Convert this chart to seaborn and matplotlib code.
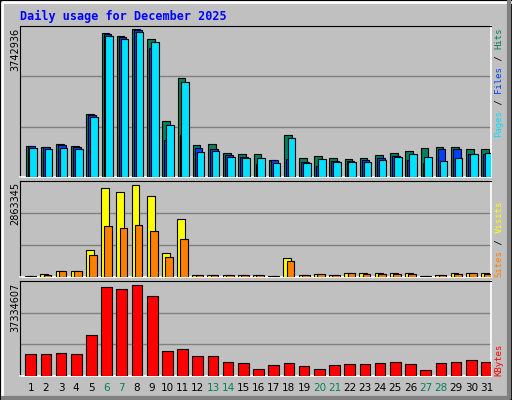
import matplotlib.pyplot as plt
import seaborn as sns
import numpy as np
import pandas as pd
from matplotlib.lines import Line2D

# Data (values in thousands)
days = list(range(1, 32))
weekend = [6, 7, 13, 14, 20, 21, 27, 28]
hits = [779, 752, 827, 779, 1550, 3560, 3485, 3661, 3414, 1400, 2444, 805, 827, 606, 580, 580,
        430, 1052, 479, 531, 479, 457, 479, 554, 606, 655, 730, 752, 752, 704, 704]
files = [779, 752, 801, 752, 1531, 3537, 3462, 3634, 3189, 928, 1052, 730, 704, 554, 505, 329,
         430, 457, 382, 281, 404, 404, 430, 479, 531, 430, 356, 704, 704, 580, 580]
pages = [730, 704, 730, 704, 1497, 3485, 3414, 3586, 3339, 1299, 2343, 629, 655, 505, 479, 479,
         356, 977, 356, 457, 382, 382, 382, 430, 505, 580, 505, 404, 479, 580, 606]
visits = [40, 100, 169, 169, 816, 2663, 2545, 2754, 2425, 724, 1741, 69, 69, 69, 69, 69,
          40, 575, 69, 100, 69, 129, 129, 129, 129, 129, 40, 69, 129, 129, 129]
sites = [29, 69, 169, 169, 667, 1532, 1472, 1560, 1383, 607, 1145, 69, 69, 69, 69, 69,
         29, 487, 69, 100, 69, 129, 100, 100, 100, 100, 29, 69, 100, 129, 100]
kbytes = [8512, 8512, 8923, 8512, 15979, 35095, 34311, 35879, 31585, 9707, 10491, 7728, 7728,
          5638, 4966, 2875, 4182, 4966, 3808, 2875, 4182, 4592, 4592, 4966, 5638, 4592, 2501,
          4966, 5638, 6160, 5638]
max_hits, max_visits, max_kbytes = 3742936, 2863345, 37334607

BG = "#C0C0C0"
fig = plt.figure(figsize=(5.12, 4.0), dpi=100, facecolor=BG)

def panel(bottom, height, series, ymax):
    ax = fig.add_axes([20 / 512, bottom, 471 / 512, height])
    ax.set_facecolor(BG)
    for offset, vals, color, w in series:
        df = pd.DataFrame({"x": np.array(days) + offset, "y": vals})
        sns.barplot(data=df, x="x", y="y", native_scale=True, orient="x", width=w,
                    color=color, edgecolor="black", linewidth=0.8, errorbar=None,
                    saturation=1, ax=ax, zorder=3)
    ax.set_xlim(0.3, 31.3)
    ax.set_ylim(0, ymax)
    for f in (1 / 3, 2 / 3):
        ax.axhline(ymax * f, color="#808080", lw=1, zorder=1)
    ax.set_xlabel("")
    ax.set_ylabel("")
    ax.set_yticks([])
    ax.set_xticks([])
    for s in ("top", "left"):
        ax.spines[s].set_color("black")
    for s in ("bottom", "right"):
        ax.spines[s].set_color("white")
        ax.spines[s].set_linewidth(1.2)
    return ax

panel(0.5575, 0.3775, [(-0.08, hits, "#00805C", 0.5), (0.05, files, "#0040FF", 0.5),
                       (0.17, pages, "#00E0FF", 0.5)], 3743)
panel(0.3075, 0.24, [(-0.1, visits, "#FFFF00", 0.52), (0.11, sites, "#FF8000", 0.5)], 2863)
ax3 = panel(0.06, 0.2375, [(0.0, kbytes, "#FF0000", 0.7)], 37335)

ax3.set_xticks(days)
ax3.set_xticklabels([str(d) for d in days], fontsize=7.5)
ax3.tick_params(axis="x", length=0, pad=5)
for lab, d in zip(ax3.get_xticklabels(), days):
    lab.set_color("#00805C" if d in weekend else "black")

fig.text(20 / 512, 1 - 16 / 400, "Daily usage for December 2025", color="#0000FF",
         family="DejaVu Sans Mono", weight="bold", fontsize=8.5, va="center")

for ytop, txt in [(28, str(max_hits)), (182, str(max_visits)), (283, str(max_kbytes))]:
    fig.text(15 / 512, 1 - ytop / 400, txt, rotation=90, va="top", ha="center", fontsize=7)

def right_label(ybottom, parts):
    n = 0
    for txt, color in parts:
        fig.text(499 / 512, 1 - (ybottom - n * 5.5) / 400, txt, rotation=90, va="bottom",
                 ha="center", color=color, family="DejaVu Sans Mono", fontsize=6.5)
        n += len(txt)

right_label(137, [("Pages", "#00E0FF"), (" / ", "black"), ("Files", "#0040FF"),
                  (" / ", "black"), ("Hits", "#00805C")])
right_label(277, [("Sites", "#FF8000"), (" / ", "black"), ("Visits", "#FFFF00")])
right_label(376, [("KBytes", "#FF0000")])

# bevelled border
fig.add_artist(Line2D([0.004, 0.004, 0.996], [0.004, 0.996, 0.996], color="white", lw=2,
                      transform=fig.transFigure))
fig.add_artist(Line2D([0.006, 0.994, 0.994], [0.006, 0.006, 0.994], color="#808080", lw=3,
                      transform=fig.transFigure))
fig.add_artist(plt.Rectangle((0, 0), 1, 1, fill=False, ec="black", lw=2,
                             transform=fig.transFigure))

fig.savefig("out.png", dpi=100, facecolor=BG)
